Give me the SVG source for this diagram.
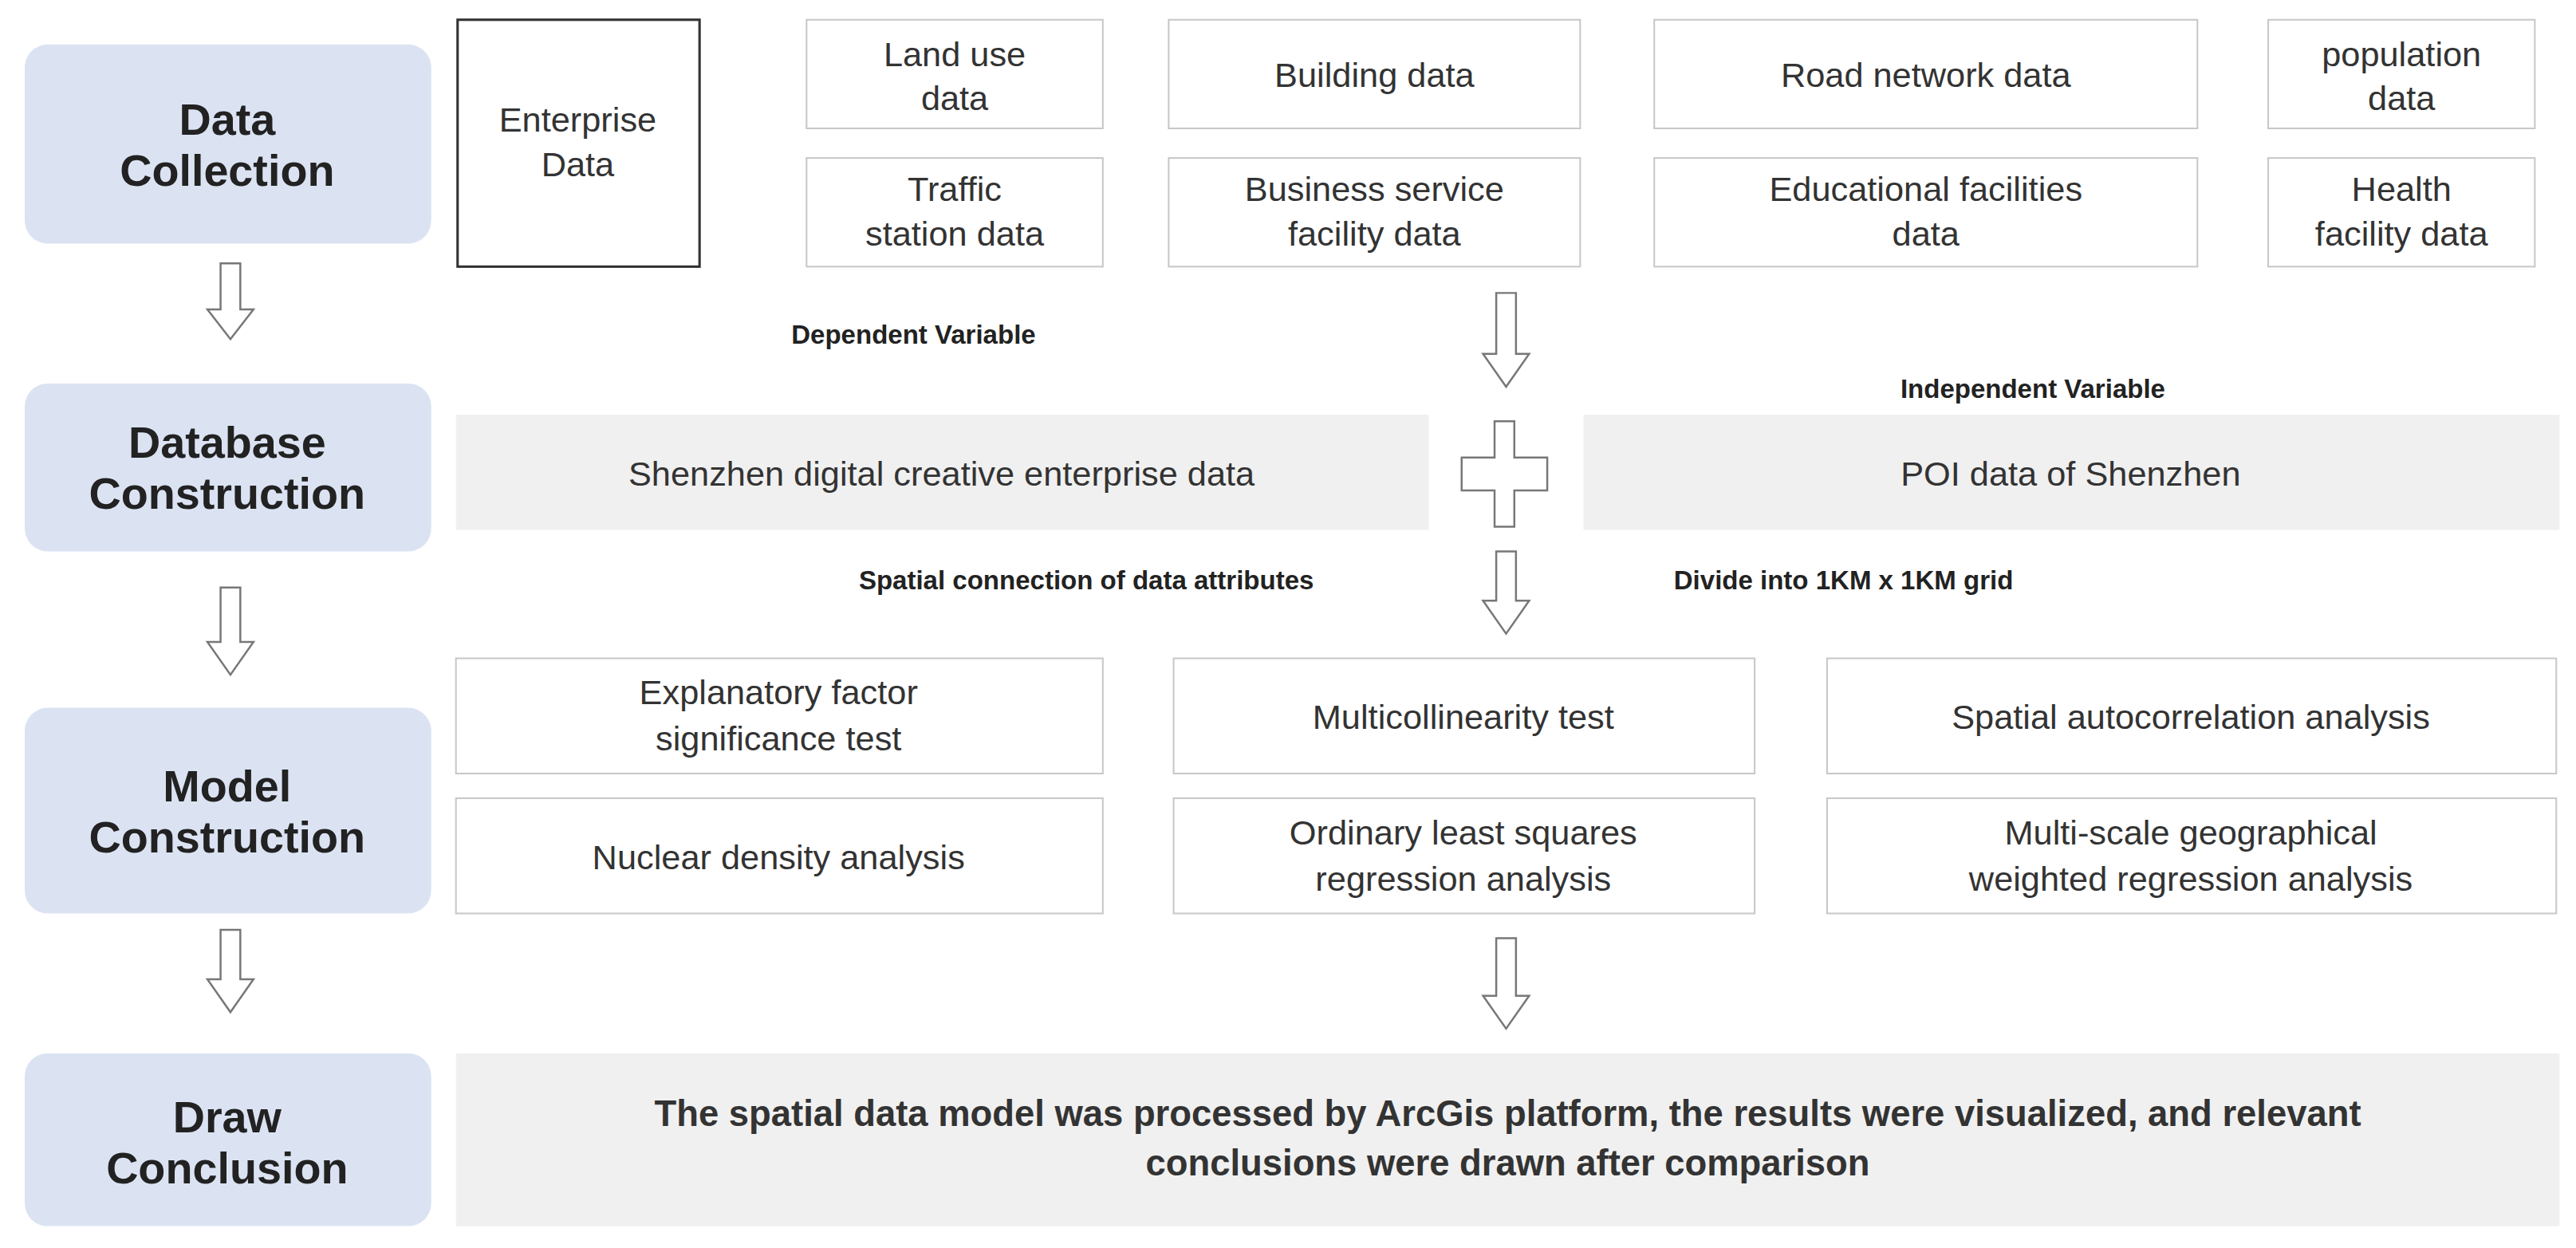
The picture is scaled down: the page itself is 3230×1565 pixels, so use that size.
<svg xmlns="http://www.w3.org/2000/svg" width="3230" height="1565" viewBox="0 0 3230 1565">
<style>
text{font-family:"Liberation Sans",Arial,sans-serif;fill:#333;text-anchor:middle}
.st{fill:#dbe3f3}
.stt{font-size:27px;font-weight:bold;fill:#222}
.bx{fill:#fff;stroke:#c8c8c8;stroke-width:1}
.gb{fill:#f0f0f0}
.t{font-size:21px}
.lb{font-size:16px;font-weight:bold;fill:#222}
.ar{fill:#fff;stroke:#777;stroke-width:1.2}
</style>
<rect width="3230" height="1565" fill="#fff"/>
<g transform="scale(2.0639)">
<g id="stage-collection"><rect class="st" x="15" y="27" width="247" height="121" rx="14"/><text class="stt" x="138" y="82">Data</text><text class="stt" x="138" y="113">Collection</text></g>
<g id="stage-database"><rect class="st" x="15" y="233" width="247" height="102" rx="14"/><text class="stt" x="138" y="278">Database</text><text class="stt" x="138" y="309">Construction</text></g>
<g id="stage-model"><rect class="st" x="15" y="430" width="247" height="125" rx="14"/><text class="stt" x="138" y="487">Model</text><text class="stt" x="138" y="518">Construction</text></g>
<g id="stage-conclusion"><rect class="st" x="15" y="640" width="247" height="105" rx="14"/><text class="stt" x="138" y="688">Draw</text><text class="stt" x="138" y="719">Conclusion</text></g>

<g id="enterprise"><rect x="278" y="12" width="147" height="150" fill="#fff" stroke="#333" stroke-width="1.5"/><text class="t" x="351" y="80">Enterprise</text><text class="t" x="351" y="107">Data</text></g>
<g id="landuse"><rect class="bx" x="490" y="12" width="180" height="66"/><text class="t" x="580" y="40">Land use</text><text class="t" x="580" y="67">data</text></g>
<g id="building"><rect class="bx" x="710" y="12" width="250" height="66"/><text class="t" x="835" y="53">Building data</text></g>
<g id="road"><rect class="bx" x="1005" y="12" width="330" height="66"/><text class="t" x="1170" y="53">Road network data</text></g>
<g id="population"><rect class="bx" x="1378" y="12" width="162" height="66"/><text class="t" x="1459" y="40">population</text><text class="t" x="1459" y="67">data</text></g>
<g id="traffic"><rect class="bx" x="490" y="96" width="180" height="66"/><text class="t" x="580" y="122">Traffic</text><text class="t" x="580" y="149">station data</text></g>
<g id="business"><rect class="bx" x="710" y="96" width="250" height="66"/><text class="t" x="835" y="122">Business service</text><text class="t" x="835" y="149">facility data</text></g>
<g id="education"><rect class="bx" x="1005" y="96" width="330" height="66"/><text class="t" x="1170" y="122">Educational facilities</text><text class="t" x="1170" y="149">data</text></g>
<g id="health"><rect class="bx" x="1378" y="96" width="162" height="66"/><text class="t" x="1459" y="122">Health</text><text class="t" x="1459" y="149">facility data</text></g>

<text class="lb" x="555" y="209">Dependent Variable</text>
<text class="lb" x="1235" y="242">Independent Variable</text>
<g id="dependent"><rect class="gb" x="277" y="252" width="591" height="70"/><text class="t" x="572" y="295">Shenzhen digital creative enterprise data</text></g>
<g id="independent"><rect class="gb" x="962" y="252" width="593" height="70"/><text class="t" x="1258" y="295">POI data of Shenzhen</text></g>
<text class="lb" x="660" y="358">Spatial connection of data attributes</text>
<text class="lb" x="1120" y="358">Divide into 1KM x 1KM grid</text>

<g id="explanatory"><rect class="bx" x="277" y="400" width="393" height="70"/><text class="t" x="473" y="428">Explanatory factor</text><text class="t" x="473" y="456">significance test</text></g>
<g id="multicol"><rect class="bx" x="713" y="400" width="353" height="70"/><text class="t" x="889" y="443">Multicollinearity test</text></g>
<g id="spatialauto"><rect class="bx" x="1110" y="400" width="443" height="70"/><text class="t" x="1331" y="443">Spatial autocorrelation analysis</text></g>
<g id="nuclear"><rect class="bx" x="277" y="485" width="393" height="70"/><text class="t" x="473" y="528">Nuclear density analysis</text></g>
<g id="ols"><rect class="bx" x="713" y="485" width="353" height="70"/><text class="t" x="889" y="513">Ordinary least squares</text><text class="t" x="889" y="541">regression analysis</text></g>
<g id="mgwr"><rect class="bx" x="1110" y="485" width="443" height="70"/><text class="t" x="1331" y="513">Multi-scale geographical</text><text class="t" x="1331" y="541">weighted regression analysis</text></g>

<g id="conclusion"><rect class="gb" x="277" y="640" width="1278" height="105"/><text x="916" y="684" font-size="22" font-weight="bold">The spatial data model was processed by ArcGis platform, the results were visualized, and relevant</text><text x="916" y="714" font-size="22" font-weight="bold">conclusions were drawn after comparison</text></g>

<g id="connectors">
<path class="ar" d="M134,160 h12 v28 h8 l-14,18 l-14,-18 h8 z"/>
<path class="ar" d="M134,357 h12 v33 h8 l-14,20 l-14,-20 h8 z"/>
<path class="ar" d="M134,565 h12 v30 h8 l-14,20 l-14,-20 h8 z"/>
<path class="ar" d="M909,178 h12 v37 h8 l-14,20 l-14,-20 h8 z"/>
<path class="ar" d="M909,335 h12 v30 h8 l-14,20 l-14,-20 h8 z"/>
<path class="ar" d="M909,570 h12 v35 h8 l-14,20 l-14,-20 h8 z"/>
<path class="ar" d="M908,256 h12 v22 h20 v20 h-20 v22 h-12 v-22 h-20 v-20 h20 z" stroke-width="2" stroke="#555"/>
</g>
</g>
</svg>
